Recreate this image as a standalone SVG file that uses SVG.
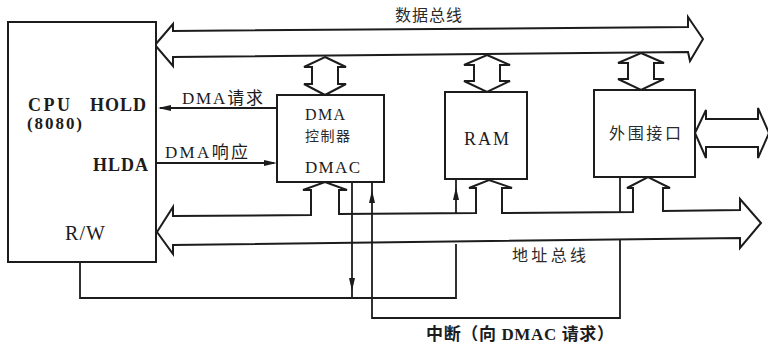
<svg xmlns="http://www.w3.org/2000/svg" width="768" height="344" viewBox="0 0 768 344">
<style>
.box{fill:#fff;stroke:#1c1c1c;stroke-width:2}
.bus{fill:none;stroke:#1c1c1c;stroke-width:2;stroke-linejoin:miter}
.ln{fill:none;stroke:#1c1c1c;stroke-width:1.8}
.t{font-family:"Liberation Serif","Noto Sans CJK SC",serif;fill:#1c1c1c}
.b{font-weight:bold}
.zh{font-family:"Noto Sans CJK SC",sans-serif;fill:#2a2a2a}
</style>
<defs>
<path id="ah" d="M0,0 L-13,-3 L-13,3 Z" fill="#1c1c1c"/>
</defs>
<rect width="768" height="344" fill="#fff"/>
<g id="connectors">
<!-- data bus -->
<polygon class="bus" points="155,45 173,24 173,31 688,27 688,17 703,39 690,61 688,52 173,57 173,66"/>
<polygon class="bus" points="325,57 346,67 338,67 338,84 346,84 325,95 304,84 312,84 312,67 304,67"/>
<polygon class="bus" points="487,55 510,65 500,65 500,81 510,81 487,92 464,81 474,81 474,65 464,65"/>
<polygon class="bus" points="641,53 664,63 654,63 654,79 664,79 641,90 618,79 628,79 628,63 618,63"/>
<!-- peripheral external bus -->
<polygon class="bus" points="695,133 706,110 706,119 758,119 758,108 769,133 758,158 758,147 706,147 706,158"/>
<!-- address bus -->
<polygon class="bus" points="157,232 173,207 173,216 311,215 311,190 303,190 325,182 347,190 339,190 339,214 476,213 476,188 469,188 489,180 512,188 502,188 502,213 633,212 633,188 627,188 648,177 670,188 663,188 663,211 740,210 740,199 761,223 740,248 740,238 173,245 173,254"/>
<!-- HOLD / HLDA -->
<line class="ln" x1="277" y1="108" x2="160" y2="108"/>
<use href="#ah" transform="translate(158,108) rotate(180)"/>
<line class="ln" x1="156" y1="163" x2="274" y2="163"/>
<use href="#ah" transform="translate(277,163)"/>
<!-- R/W -->
<polyline class="ln" points="80,262 80,298 456,298 456,244"/>
<line class="ln" x1="456" y1="213" x2="456" y2="180"/>
<use href="#ah" transform="translate(456,187) rotate(-90)"/>
<line class="ln" x1="352" y1="182" x2="352" y2="298"/>
<use href="#ah" transform="translate(352,291) rotate(90)"/>
<!-- interrupt -->
<polyline class="ln" points="372,182 372,318 620,318 620,240"/>
<line class="ln" x1="620" y1="177" x2="620" y2="212"/>
<use href="#ah" transform="translate(372,190) rotate(-90)"/>
<text class="zh" x="395" y="21" font-size="16" textLength="67" lengthAdjust="spacing">数据总线</text>
<text class="zh" x="512" y="261" font-size="16" textLength="74" lengthAdjust="spacing">地址总线</text>
<text class="t" x="182" y="104" font-size="17" textLength="81" lengthAdjust="spacing">DMA请求</text>
<text class="t" x="165" y="158" font-size="17" textLength="83" lengthAdjust="spacing">DMA响应</text>
<text class="t b" x="426" y="340" font-size="17" textLength="188" lengthAdjust="spacing">中断（向 DMAC 请求）</text>
</g>
<g id="cpu">
<rect class="box" x="8" y="22" width="148" height="240"/>
<text class="t b" x="28" y="111" font-size="18" textLength="42" lengthAdjust="spacing">CPU</text>
<text class="t b" x="90" y="111" font-size="18" textLength="56" lengthAdjust="spacing">HOLD</text>
<text class="t b" x="27" y="129" font-size="17" textLength="55" lengthAdjust="spacing">(8080)</text>
<text class="t b" x="93" y="171" font-size="18" textLength="55" lengthAdjust="spacing">HLDA</text>
<text class="t" x="65" y="240" font-size="20" textLength="40" lengthAdjust="spacing">R/W</text>
</g>
<g id="dmac">
<rect class="box" x="277" y="95" width="107" height="87"/>
<text class="t" x="305" y="120" font-size="16" textLength="40" lengthAdjust="spacing">DMA</text>
<text class="zh" x="305" y="141" font-size="14" textLength="45" lengthAdjust="spacing">控制器</text>
<text class="t" x="305" y="173" font-size="17" textLength="55" lengthAdjust="spacing">DMAC</text>
</g>
<g id="ram">
<rect class="box" x="445" y="92" width="82" height="87"/>
<text class="t" x="464" y="145" font-size="18" textLength="45" lengthAdjust="spacing">RAM</text>
</g>
<g id="periph">
<rect class="box" x="594" y="90" width="101" height="87"/>
<text class="zh" x="609" y="139" font-size="16" textLength="72" lengthAdjust="spacing">外围接口</text>
</g>
</svg>
